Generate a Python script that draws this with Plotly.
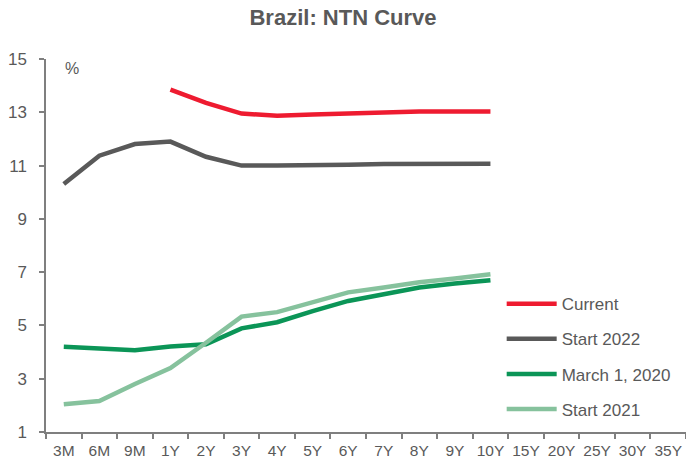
import plotly.graph_objects as go

# Tenors on the x axis
tenors = ["3M", "6M", "9M", "1Y", "2Y", "3Y", "4Y", "5Y", "6Y", "7Y", "8Y", "9Y",
          "10Y", "15Y", "20Y", "25Y", "30Y", "35Y"]

# Yields (%) by tenor; None where no point exists
current = [None, None, None, 13.85, 13.35, 12.95, 12.87, 12.92, 12.96, 13.0, 13.03, 13.03, 13.03]
start_2022 = [10.31, 11.37, 11.81, 11.9, 11.33, 11.0, 11.0, 11.0, 11.03, 11.06, 11.07, 11.07, 11.07]
march_2020 = [4.2, 4.14, 4.07, 4.21, 4.29, 4.89, 5.12, 5.54, 5.92, 6.17, 6.42, 6.57, 6.7]
start_2021 = [2.04, 2.16, 2.8, 3.4, 4.35, 5.33, 5.5, 5.89, 6.24, 6.42, 6.62, 6.76, 6.92]

y_ticks = [1, 3, 5, 7, 9, 11, 13, 15]

series = [
    ("Current", current, "#EE1B30"),
    ("Start 2022", start_2022, "#595959"),
    ("March 1, 2020", march_2020, "#0B9557"),
    ("Start 2021", start_2021, "#86C29D"),
]

grey = "#595959"
font_family = "Liberation Sans, Arial, sans-serif"

fig = go.Figure()
for i, (name, vals, color) in enumerate(series):
    fig.add_trace(go.Scatter(
        x=tenors[:len(vals)], y=vals, name=name, mode="lines",
        line=dict(color=color, width=4.5), legendgroup=f"g{i}",
        connectgaps=False,
    ))

fig.update_layout(
    width=686, height=466,
    margin=dict(l=46, r=0, t=59, b=34),
    paper_bgcolor="white", plot_bgcolor="white",
    font=dict(family=font_family, color=grey, size=16),
    title=dict(text="<b>Brazil: NTN Curve</b>", x=0.5, xanchor="center",
               y=0.962, yanchor="middle",
               font=dict(size=22, color=grey, family=font_family)),
    showlegend=True,
    legend=dict(x=0.712, y=0.391, xanchor="left", yanchor="top",
                bgcolor="rgba(0,0,0,0)", tracegroupgap=10,
                font=dict(size=17, color=grey, family=font_family),
                itemwidth=50),
    xaxis=dict(
        type="category", categoryorder="array", categoryarray=tenors,
        range=[-0.5, len(tenors) - 0.5], tickson="boundaries",
        showline=True, linecolor="#7f7f7f", linewidth=1.5,
        ticks="outside", ticklen=5, tickcolor="#7f7f7f", tickwidth=1.5,
        showgrid=False, zeroline=False, tickfont=dict(size=15.5, color=grey),
        tickangle=0, ticklabelstandoff=4, automargin=False,
    ),
    yaxis=dict(
        range=[1, 15], tickvals=y_ticks,
        showline=True, linecolor="#7f7f7f", linewidth=1.5,
        ticks="outside", ticklen=5, tickcolor="#7f7f7f", tickwidth=1.5,
        showgrid=False, zeroline=False, tickfont=dict(size=17, color=grey),
        ticklabelstandoff=9, automargin=False,
    ),
    annotations=[dict(text="%", xref="paper", yref="paper", x=0.04, y=0.975,
                      xanchor="center", yanchor="middle", showarrow=False,
                      font=dict(size=16, color=grey))],
)

fig.write_html("out.html")
